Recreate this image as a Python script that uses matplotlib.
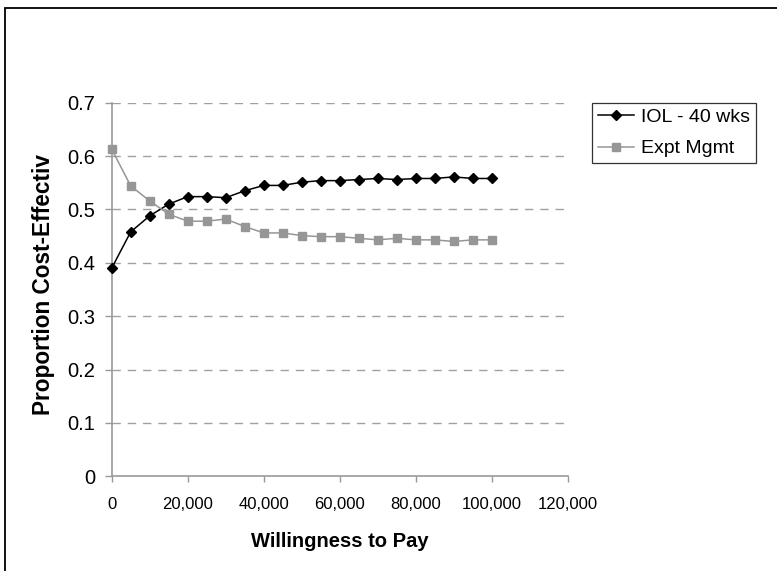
import matplotlib
matplotlib.use("Agg")
import matplotlib.pyplot as plt
from matplotlib.patches import Rectangle
from matplotlib.ticker import FuncFormatter

plt.rcParams['font.family'] = ['Liberation Sans', 'DejaVu Sans']

# Willingness to pay (x) and proportion cost-effective for each strategy
wtp = [0, 5000, 10000, 15000, 20000, 25000, 30000, 35000, 40000, 45000, 50000,
       55000, 60000, 65000, 70000, 75000, 80000, 85000, 90000, 95000, 100000]
iol_40wks = [0.390, 0.458, 0.488, 0.510, 0.524, 0.524, 0.522, 0.535, 0.545, 0.545, 0.551,
             0.554, 0.554, 0.556, 0.558, 0.556, 0.558, 0.558, 0.561, 0.558, 0.558]
expt_mgmt = [0.613, 0.544, 0.516, 0.491, 0.478, 0.478, 0.482, 0.468, 0.456, 0.456, 0.451,
             0.449, 0.449, 0.446, 0.443, 0.446, 0.443, 0.443, 0.440, 0.443, 0.443]

W, H = 777, 571
fig = plt.figure(figsize=(W / 100, H / 100), dpi=100)

# plot area in pixel coordinates
x0, x1 = 111.7, 567.7
y_top, y_bot = 102.7, 476.3
ax = fig.add_axes([x0 / W, 1 - y_bot / H, (x1 - x0) / W, (y_bot - y_top) / H])

grid_col = '#a0a0a0'
axis_col = '#999999'

ax.plot(wtp, iol_40wks, color='black', lw=1.1, marker='D', ms=5.4,
        mfc='black', mec='black', label='IOL - 40 wks', zorder=3, clip_on=False)
ax.plot(wtp, expt_mgmt, color='#969696', lw=1.1, marker='s', ms=5.8,
        mfc='#969696', mec='#969696', label='Expt Mgmt', zorder=3, clip_on=False)

ax.set_xlim(0, 120000)
ax.set_ylim(0, 0.7)
ax.set_xticks(range(0, 120001, 20000))
ax.set_yticks([0, 0.1, 0.2, 0.3, 0.4, 0.5, 0.6, 0.7])
ax.xaxis.set_major_formatter(FuncFormatter(lambda v, p: f"{int(v):,}"))
ax.yaxis.set_major_formatter(FuncFormatter(lambda v, p: "0" if v == 0 else f"{v:.1f}"))

for v in [0.1, 0.2, 0.3, 0.4, 0.5, 0.6, 0.7]:
    ax.axhline(v, color=grid_col, lw=1.0, dashes=(6, 5), zorder=1)

for s in ['top', 'right']:
    ax.spines[s].set_visible(False)
for s in ['left', 'bottom']:
    ax.spines[s].set_color(axis_col)
    ax.spines[s].set_linewidth(1.2)

ax.tick_params(axis='x', colors=axis_col, direction='out', length=4, width=1, pad=11,
               labelsize=12, labelcolor='black')
ax.tick_params(axis='y', colors=axis_col, direction='out', length=5, width=1, pad=7,
               labelsize=14.5, labelcolor='black')

ax.set_xlabel('Willingness to Pay', fontsize=14.5, fontweight='bold', labelpad=14)

# y label is cut off at the top in the original
fig.text(44 / W, 1 - 415 / H, 'Proportion Cost-Effective', rotation=90,
         ha='center', va='bottom', fontsize=16.3, fontweight='bold')
fig.patches.append(Rectangle((25 / W, 1 - 155 / H), 35 / W, 50 / H, transform=fig.transFigure,
                             facecolor='white', edgecolor='none', zorder=10))

leg = fig.legend(loc='upper left', bbox_to_anchor=(591.7 / W, 1 - 102.7 / H),
                 frameon=True, fancybox=False, fontsize=14, handlelength=1.85,
                 handletextpad=0.4, borderpad=0.3, labelspacing=0.7, borderaxespad=0)
leg.get_frame().set_edgecolor('black')
leg.get_frame().set_linewidth(0.9)

# outer chart border (left and top edges visible)
fig.patches.append(Rectangle((5 / W, -0.2), 1.3, 1 - 8 / H + 0.2, transform=fig.transFigure,
                             fill=False, edgecolor='black', lw=1.3))

fig.savefig('out.png', dpi=100)
